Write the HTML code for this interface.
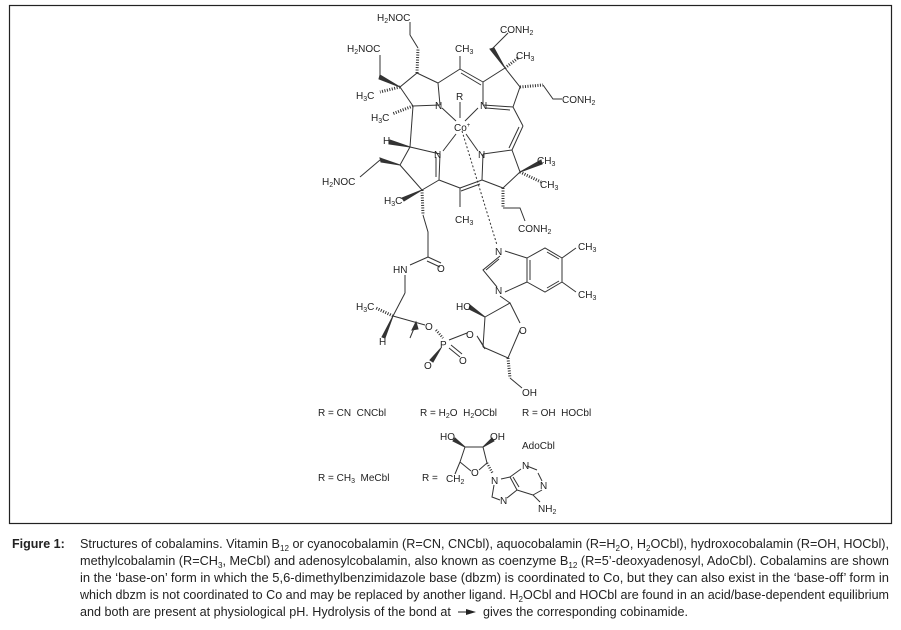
<!DOCTYPE html>
<html><head><meta charset="utf-8"><style>
html,body{margin:0;padding:0;background:#fff;}
svg{display:block;}
text{font-family:"Liberation Sans",sans-serif;fill:#222;}
.pre{white-space:pre;}
</style></head><body>
<svg width="901" height="630" viewBox="0 0 901 630" xmlns="http://www.w3.org/2000/svg">
<rect x="9.5" y="5.5" width="882" height="518" fill="none" stroke="#222" stroke-width="1.2"/>
<g stroke="#333" stroke-width="1" fill="none">
<polyline points="440,105 438,83 417,73 400,87 413,106 440,105"/>
<line x1="438" y1="83" x2="460" y2="69"/><line x1="460" y1="69" x2="483" y2="82"/><line x1="461" y1="73" x2="481" y2="85"/>
<line x1="460" y1="69" x2="460" y2="56"/>
<polyline points="483,105 483,82 505,68 520,87 513,107 483,105"/>
<line x1="486" y1="108" x2="510" y2="110"/>
<line x1="513" y1="107" x2="523" y2="126"/><line x1="523" y1="126" x2="512" y2="150"/><line x1="519" y1="127" x2="509" y2="148"/>
<polyline points="483,154 512,150 520,172 503,188 482,180 483,154"/>
<line x1="482" y1="180" x2="460" y2="188"/><line x1="480" y1="184" x2="461" y2="191"/><line x1="460" y1="188" x2="439" y2="180"/>
<line x1="460" y1="188" x2="460" y2="207"/>
<polyline points="440,154 439,180 422,190 400,165 410,147 440,154"/>
<line x1="436" y1="157" x2="436" y2="177"/>
<line x1="413" y1="106" x2="410" y2="147"/>
<line x1="442" y1="108" x2="456" y2="121"/><line x1="478" y1="108" x2="465" y2="121"/>
<line x1="443" y1="151" x2="456" y2="134"/><line x1="478" y1="151" x2="466" y2="134"/>
<line x1="460" y1="102" x2="460" y2="118"/>
<line x1="462" y1="131" x2="497" y2="245" stroke-dasharray="2,2"/>
<line x1="400" y1="87" x2="380" y2="92" stroke-dasharray="1,1.5" stroke-width="3"/>
<polygon points="400,87 380,75 379,79" fill="#333"/>
<line x1="380" y1="77" x2="380" y2="55"/>
<line x1="417" y1="73" x2="418" y2="48" stroke-dasharray="1,1.5" stroke-width="3"/>
<line x1="418" y1="48" x2="410" y2="35"/><line x1="410" y1="35" x2="410" y2="22"/>
<line x1="413" y1="106" x2="392" y2="114" stroke-dasharray="1,1.5" stroke-width="3"/>
<polygon points="410,147 390,140 389,144" fill="#333"/>
<polygon points="400,165 380,158 381,162" fill="#333"/>
<line x1="380" y1="160" x2="360" y2="177"/>
<polygon points="422,190 402,198 404,201" fill="#333"/>
<line x1="422" y1="190" x2="423" y2="215" stroke-dasharray="1,1.5" stroke-width="3"/>
<polyline points="423,215 428,232 428,257"/>
<line x1="428" y1="257" x2="441" y2="263"/><line x1="427" y1="261" x2="440" y2="267"/>
<line x1="428" y1="257" x2="410" y2="265"/>
<line x1="405" y1="275" x2="405" y2="293"/><line x1="405" y1="293" x2="393" y2="316"/>
<line x1="393" y1="316" x2="376" y2="308" stroke-dasharray="1,1.5" stroke-width="3"/>
<polygon points="393,316 382,337 385,338" fill="#333"/>
<line x1="393" y1="316" x2="425" y2="325"/>
<line x1="410" y1="338" x2="415" y2="326"/><polygon points="416,322 412,330 418,329" fill="#333"/>
<line x1="436" y1="330" x2="443" y2="338" stroke-dasharray="1,1.5" stroke-width="2.5"/>
<line x1="449" y1="340" x2="467" y2="333"/>
<line x1="449" y1="348" x2="460" y2="357"/><line x1="451" y1="345" x2="462" y2="354"/>
<polygon points="441,348 430,360 433,362" fill="#333"/>
<polygon points="477,336 483,345 485,349" fill="#333"/>
<polyline points="483,347 485,317 510,303 520,323"/><polyline points="520,330 508,358 483,347"/>
<polygon points="485,317 470,305 469,309" fill="#333"/>
<line x1="510" y1="303" x2="500" y2="296"/>
<line x1="508" y1="358" x2="510" y2="378" stroke-dasharray="1,1.5" stroke-width="3"/>
<line x1="510" y1="378" x2="522" y2="388"/>
<polyline points="500,256 483,270 497,287"/><line x1="486" y1="270" x2="499" y2="259"/>
<line x1="505" y1="292" x2="527" y2="282"/><line x1="505" y1="251" x2="527" y2="258"/>
<polygon points="527,258 545,248 562,258 562,282 545,292 527,282" />
<line x1="530" y1="260" x2="530" y2="280"/><line x1="547" y1="252" x2="559" y2="259"/><line x1="547" y1="288" x2="559" y2="281"/>
<line x1="562" y1="258" x2="576" y2="248"/><line x1="562" y1="282" x2="576" y2="292"/>
<polygon points="505,68 490,49 494,48" fill="#333"/>
<line x1="492" y1="49" x2="508" y2="33"/>
<line x1="505" y1="68" x2="518" y2="58" stroke-dasharray="1,1.5" stroke-width="3"/>
<line x1="520" y1="87" x2="543" y2="85" stroke-dasharray="1,1.5" stroke-width="3"/>
<polyline points="543,85 553,99 562,99"/>
<polygon points="520,172 541,160 542,164" fill="#333"/>
<line x1="520" y1="172" x2="541" y2="182" stroke-dasharray="1,1.5" stroke-width="3"/>
<line x1="503" y1="188" x2="503" y2="208" stroke-dasharray="1,1.5" stroke-width="3"/>
<polyline points="503,208 520,208 525,221"/>
<polyline points="460,462 465,447 483,447 487,463 479,470"/><line x1="471" y1="471" x2="460" y2="462"/>
<polygon points="465,447 455,438 453,441" fill="#333"/><polygon points="483,447 492,438 494,441" fill="#333"/>
<line x1="460" y1="462" x2="455" y2="474"/>
<line x1="487" y1="463" x2="493" y2="474" stroke-dasharray="1,1.5" stroke-width="2.5"/>
<polyline points="494,485 492,497 500,500"/><line x1="507" y1="498" x2="517" y2="490"/>
<line x1="501" y1="479" x2="510" y2="477"/><line x1="510" y1="477" x2="517" y2="490"/><line x1="513" y1="477" x2="519" y2="487"/>
<line x1="510" y1="477" x2="521" y2="469"/><line x1="527" y1="466" x2="537" y2="470"/>
<line x1="538" y1="473" x2="542" y2="481"/><line x1="542" y1="490" x2="533" y2="495"/>
<line x1="533" y1="495" x2="517" y2="490"/><line x1="533" y1="495" x2="540" y2="502"/>
</g>
<g font-size="10">
<text x="377" y="21">H<tspan font-size="7" dy="2">2</tspan><tspan dy="-2">NOC</tspan></text>
<text x="347" y="52">H<tspan font-size="7" dy="2">2</tspan><tspan dy="-2">NOC</tspan></text>
<text x="455" y="52">CH<tspan font-size="7" dy="2">3</tspan></text>
<text x="500" y="33">CONH<tspan font-size="7" dy="2">2</tspan></text>
<text x="516" y="59">CH<tspan font-size="7" dy="2">3</tspan></text>
<text x="562" y="103">CONH<tspan font-size="7" dy="2">2</tspan></text>
<text x="356" y="99">H<tspan font-size="7" dy="2">3</tspan><tspan dy="-2">C</tspan></text>
<text x="371" y="121">H<tspan font-size="7" dy="2">3</tspan><tspan dy="-2">C</tspan></text>
<text x="383" y="144">H</text>
<text x="435" y="109">N</text><text x="480" y="109">N</text>
<text x="434" y="158">N</text><text x="478" y="158">N</text>
<text x="456" y="100">R</text>
<text x="454" y="131">Co<tspan font-size="6" dy="-4">+</tspan></text>
<text x="322" y="185">H<tspan font-size="7" dy="2">2</tspan><tspan dy="-2">NOC</tspan></text>
<text x="384" y="204">H<tspan font-size="7" dy="2">3</tspan><tspan dy="-2">C</tspan></text>
<text x="455" y="223">CH<tspan font-size="7" dy="2">3</tspan></text>
<text x="537" y="164">CH<tspan font-size="7" dy="2">3</tspan></text>
<text x="540" y="188">CH<tspan font-size="7" dy="2">3</tspan></text>
<text x="518" y="232">CONH<tspan font-size="7" dy="2">2</tspan></text>
<text x="495" y="255">N</text><text x="495" y="294">N</text>
<text x="578" y="250">CH<tspan font-size="7" dy="2">3</tspan></text>
<text x="578" y="298">CH<tspan font-size="7" dy="2">3</tspan></text>
<text x="393" y="273">HN</text><text x="437" y="272">O</text>
<text x="356" y="310">H<tspan font-size="7" dy="2">3</tspan><tspan dy="-2">C</tspan></text>
<text x="379" y="345">H</text>
<text x="425" y="330">O</text><text x="440" y="348">P</text>
<text x="459" y="364">O</text><text x="424" y="369">O</text>
<text x="466" y="338">O</text><text x="519" y="334">O</text>
<text x="456" y="310">HO</text><text x="522" y="396">OH</text>
<text class="pre" x="318" y="416">R = CN  CNCbl</text>
<text class="pre" x="420" y="416">R = H<tspan font-size="7" dy="2">2</tspan><tspan dy="-2">O  H</tspan><tspan font-size="7" dy="2">2</tspan><tspan dy="-2">OCbl</tspan></text>
<text class="pre" x="522" y="416">R = OH  HOCbl</text>
<text x="440" y="440">HO</text><text x="490" y="440">OH</text>
<text x="522" y="449">AdoCbl</text>
<text class="pre" x="318" y="481">R = CH<tspan font-size="7" dy="2">3</tspan><tspan dy="-2">  MeCbl</tspan></text>
<text x="422" y="481">R =</text>
<text x="446" y="482">CH<tspan font-size="7" dy="2">2</tspan></text>
<text x="471" y="476">O</text>
<text x="491" y="484">N</text><text x="500" y="504">N</text>
<text x="522" y="469">N</text><text x="540" y="489">N</text>
<text x="538" y="512">NH<tspan font-size="7" dy="2">2</tspan></text>
</g>
<g font-size="12.5">
<text x="12" y="548" font-weight="bold" font-size="12.5">Figure 1:</text>
<text x="80" y="548" textLength="809" lengthAdjust="spacingAndGlyphs">Structures of cobalamins. Vitamin B<tspan font-size="8" dy="3">12</tspan><tspan dy="-3"> or cyanocobalamin (R=CN, CNCbl), aquocobalamin (R=H</tspan><tspan font-size="8" dy="3">2</tspan><tspan dy="-3">O, H</tspan><tspan font-size="8" dy="3">2</tspan><tspan dy="-3">OCbl), hydroxocobalamin (R=OH, HOCbl),</tspan></text>
<text x="80" y="565" textLength="809" lengthAdjust="spacingAndGlyphs">methylcobalamin (R=CH<tspan font-size="8" dy="3">3</tspan><tspan dy="-3">, MeCbl) and adenosylcobalamin, also known as coenzyme B</tspan><tspan font-size="8" dy="3">12</tspan><tspan dy="-3"> (R=5’-deoxyadenosyl, AdoCbl). Cobalamins are shown</tspan></text>
<text x="80" y="582" textLength="809" lengthAdjust="spacingAndGlyphs">in the ‘base-on’ form in which the 5,6-dimethylbenzimidazole base (dbzm) is coordinated to Co, but they can also exist in the ‘base-off’ form in</text>
<text x="80" y="599" textLength="809" lengthAdjust="spacingAndGlyphs">which dbzm is not coordinated to Co and may be replaced by another ligand. H<tspan font-size="8" dy="3">2</tspan><tspan dy="-3">OCbl and HOCbl are found in an acid/base-dependent equilibrium</tspan></text>
<text x="80" y="616" textLength="608" lengthAdjust="spacingAndGlyphs">and both are present at physiological pH. Hydrolysis of the bond at <tspan fill="#fff">—→</tspan> gives the corresponding cobinamide.</text>
</g>
<line x1="458" y1="612" x2="470" y2="612" stroke="#222" stroke-width="1"/>
<polygon points="466,609 476,612 466,615" fill="#222"/>
</svg>
</body></html>
